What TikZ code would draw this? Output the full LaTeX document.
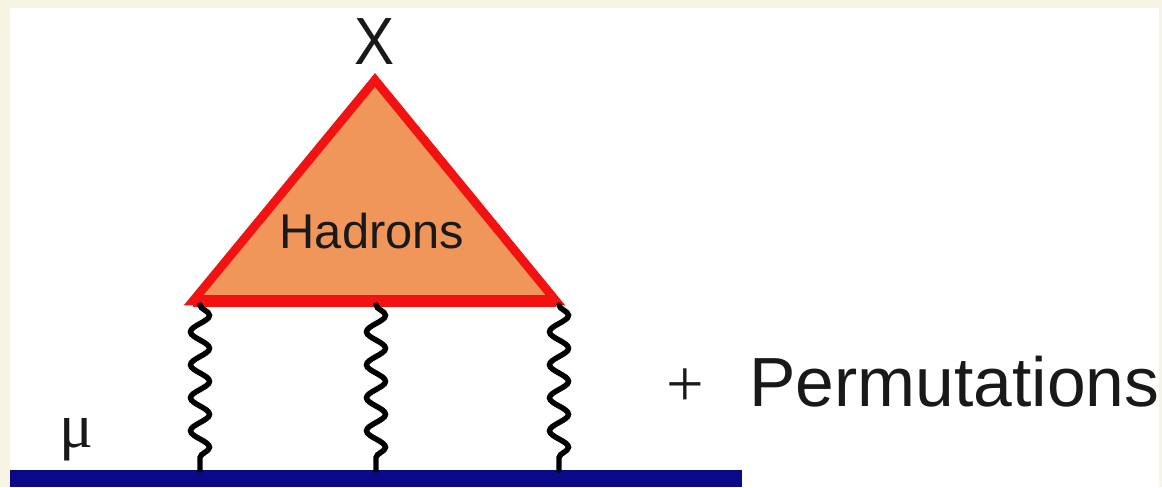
\documentclass[tikz,border=0pt]{standalone}
\usepackage{fontspec}
\setmainfont{Liberation Serif}
\setsansfont{Liberation Sans}
\usepackage{tikz}
\usetikzlibrary{decorations.pathmorphing,positioning}
\definecolor{slidePaper}{HTML}{F8F4E3}
\definecolor{blobRed}{HTML}{F21212}
\definecolor{blobFill}{HTML}{F0965B}
\definecolor{muonBlue}{HTML}{0A0A88}

\begin{document}
\begin{tikzpicture}[
  x=0.02cm, y=-0.02cm,
  tag/.style={font=\sffamily\fontsize{39.6}{42}\selectfont, inner sep=0pt, text=black!90},
  blob/.style={draw=blobRed, fill=blobFill, line width=5pt, line join=miter},
  photon/.style={decorate, decoration={snake, segment length=0.66cm, amplitude=0.19cm}, line width=3.1pt, line cap=round},
  muon/.style={draw=muonBlue, line width=9.6pt}
]
  % page and margins
  \useasboundingbox (0,0) rectangle (1162,487);
  \fill[slidePaper] (0,0) rectangle (1162,487);
  \fill[white] (10,8) rectangle (1159,487);

  % hadronic blob
  \coordinate (apex) at (375,80);
  \coordinate (bl) at (193,301);
  \coordinate (br) at (556,301);
  \draw[blob] (apex) -- (br) -- (bl) -- cycle;
  \draw[blobRed, line width=6.8pt] (bl) -- (br);

  \node[tag, anchor=south, above=0.3cm of apex, xscale=0.9, font=\sffamily\fontsize{38}{40}\selectfont] (xout) {X};
  \node[tag, font=\sffamily\fontsize{27.8}{30}\selectfont] (hadrons) at (372,231) {Hadrons};

  % muon line
  \coordinate (muL) at (10,478.5);
  \coordinate (muR) at (742,478.5);
  \draw[muon] (muL) -- (muR);
  \node[tag, font=\rmfamily\fontsize{36}{38}\selectfont, anchor=base] (mu) at (76,447) {μ};

  % photon legs
  \foreach \i/\x in {1/200, 2/376, 3/559} {
    \coordinate (t\i) at (\x,305);
    \coordinate (m\i) at (\x,470);
    \draw[photon] (t\i) -- (m\i);
  }

  \node[tag, font=\rmfamily\fontsize{38}{40}\selectfont] (plus) at (685,388) {+};
  \node[tag, anchor=base west] (perm) at (749,406) {Permutations};
\end{tikzpicture}
\end{document}
